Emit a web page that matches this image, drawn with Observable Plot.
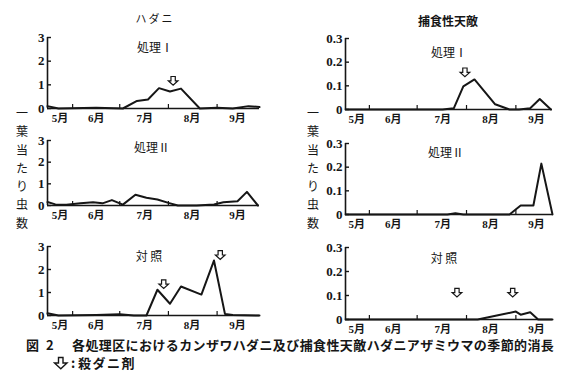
<!DOCTYPE html>
<html><head><meta charset="utf-8">
<script src="https://cdn.jsdelivr.net/npm/d3@7"></script>
<script src="https://cdn.jsdelivr.net/npm/@observablehq/plot@0.6"></script>
<style>
body{margin:0;background:#fff;}
#chart{position:relative;width:574px;height:384px;overflow:hidden;font-family:"Noto Sans CJK JP",sans-serif;color:#161616;}
#chart svg.plot{position:absolute;left:0;top:0;}
.t{position:absolute;transform:translate(-50%,-50%);white-space:nowrap;line-height:1;}
.v{position:absolute;width:16px;text-align:center;font-size:12px;line-height:18.3px;}
.c{position:absolute;white-space:nowrap;font-weight:bold;line-height:1;}
</style></head><body><div id="chart"></div>
<script>
// ---- tick labels / categories ----
const months = ["5月","6月","7月","8月","9月"];
const monthLabelAt = ["05-24","06-16","07-17","08-16","09-14"];
const monthStarts = ["06-01","07-01","08-01","09-01"];
const miteTicks = [0,1,2,3];
const predTicks = [0,0.1,0.2,0.3];

// ---- ハダニ (spider mites per leaf) ----
const miteI_dates = ["05-16","05-23","06-16","07-03","07-12","07-19","07-26","08-02","08-09","08-21","09-01","09-11","09-21","09-28"];
const miteI_vals  = [0.10,0.00,0.03,0.00,0.32,0.38,0.86,0.72,0.84,0.00,0.03,0.00,0.10,0.06];
const miteII_dates = ["05-16","05-21","05-28","06-06","06-14","06-20","06-26","07-03","07-11","07-18","07-25","08-01","08-07","08-19","08-30","09-05","09-14","09-20","09-27"];
const miteII_vals  = [0.16,0.05,0.03,0.10,0.15,0.10,0.25,0.04,0.50,0.36,0.28,0.12,0.00,0.00,0.05,0.15,0.20,0.63,0.00];
const miteC_dates = ["05-16","05-23","06-16","07-01","07-10","07-18","07-25","08-02","08-09","08-22","08-30","09-06","09-11","09-28"];
const miteC_vals  = [0.10,0.00,0.02,0.05,0.00,0.00,1.12,0.51,1.26,0.91,2.39,0.07,0.02,0.00];

// ---- 捕食性天敵 (predators per leaf) ----
const predI_dates = ["05-17","07-17","07-24","07-30","08-06","08-19","08-28","09-03","09-10","09-16","09-23"];
const predI_vals  = [0,0,0.005,0.098,0.127,0.022,0,0,0.005,0.044,0];
const predII_dates = ["05-17","07-20","07-25","07-30","08-28","09-04","09-12","09-17","09-24"];
const predII_vals  = [0,0,0.005,0,0,0.038,0.038,0.215,0];
const predC_dates = ["05-17","08-08","08-20","09-01","09-04","09-10","09-15","09-24"];
const predC_vals  = [0,0,0.017,0.033,0.02,0.03,0,0];

// ---- 殺ダニ剤 application dates ----
const sprayMiteI = ["08-04"];
const sprayMiteC = ["07-29","09-03"];
const sprayPredI = ["07-31"];
const sprayPredC = ["07-26","08-30"];

const ink = "#161616";
const serif = "'Liberation Serif', 'DejaVu Serif', 'Noto Sans CJK JP', serif";
const parse = s => { const [m, d] = s.split("-").map(Number); return new Date(Date.UTC(2001, m - 1, d)); };
const rows = (dates, vals) => dates.map((d, i) => ({date: parse(d), value: vals[i]}));

// outlined down-arrow symbol (殺ダニ剤 marker)
const arrowSymbol = {
  draw(ctx, size) {
    const r = Math.sqrt(size / Math.PI);
    const w = r * 0.45, h = r * 0.9;
    ctx.moveTo(-w, -h);
    ctx.lineTo(w, -h);
    ctx.lineTo(w, 0);
    ctx.lineTo(r, 0);
    ctx.lineTo(0, h);
    ctx.lineTo(-r, 0);
    ctx.lineTo(-w, 0);
    ctx.closePath();
  }
};

function panel(cfg) {
  const {series, spray, sprayY, xDom, yMax, yTicks, fmt, L, R, T, B} = cfg;
  const x0 = parse(xDom[0]), x1 = parse(xDom[1]);
  const tickMs = (x1 - x0) * 4 / (R - L);
  const tickV = yMax * 4 / (B - T);
  const svg = Plot.plot({
    width: 574, height: 384,
    marginLeft: L, marginRight: 574 - R, marginTop: T, marginBottom: 384 - B,
    x: {type: "utc", domain: [x0, x1], axis: null},
    y: {domain: [0, yMax], axis: null},
    style: {background: "transparent", overflow: "visible"},
    marks: [
      Plot.ruleX([x0], {y1: 0, y2: yMax, stroke: ink, strokeWidth: 1.6}),
      Plot.ruleY([0], {x1: x0, x2: x1, stroke: ink, strokeWidth: 1.6}),
      Plot.ruleY(yTicks, {y: d => d, x1: x0, x2: new Date(+x0 + tickMs), stroke: ink, strokeWidth: 1.4}),
      Plot.ruleX(monthStarts.map(parse), {x: d => d, y1: 0, y2: tickV, stroke: ink, strokeWidth: 1.2}),
      Plot.text(yTicks, {x: x0, y: d => d, text: fmt, textAnchor: "end", dx: -3, fontFamily: serif, fontSize: 13, fontWeight: "bold", fill: ink}),
      Plot.text(monthLabelAt.map(parse), {x: d => d, y: 0, text: (d, i) => months[i], dy: 10, fontFamily: serif, fontSize: 11, fontWeight: "bold", fill: ink}),
      Plot.line(series, {x: "date", y: "value", stroke: ink, strokeWidth: 2}),
      Plot.dot(spray.map(parse), {x: d => d, y: sprayY, symbol: arrowSymbol, r: 4.8, fill: "white", stroke: ink, strokeWidth: 1.2})
    ]
  });
  svg.classList.add("plot");
  svg.querySelectorAll("text").forEach(t => { t.style.fontFamily = serif; });
  return svg;
}

const leftDom = ["05-16", "09-28"], rightDom = ["05-17", "09-24"];
const mf = d => String(d), pf = d => d === 0 ? "0" : d.toFixed(1);
const panels = [
  {series: rows(miteI_dates, miteI_vals), spray: sprayMiteI, sprayY: [1.17], xDom: leftDom, yMax: 3, yTicks: miteTicks, fmt: mf, L: 47, R: 259, T: 37, B: 108},
  {series: rows(miteII_dates, miteII_vals), spray: [], sprayY: [], xDom: leftDom, yMax: 3, yTicks: miteTicks, fmt: mf, L: 47, R: 259, T: 140, B: 205},
  {series: rows(miteC_dates, miteC_vals), spray: sprayMiteC, sprayY: [1.36, 2.63], xDom: leftDom, yMax: 3, yTicks: miteTicks, fmt: mf, L: 47, R: 259, T: 246, B: 315},
  {series: rows(predI_dates, predI_vals), spray: sprayPredI, sprayY: [0.157], xDom: rightDom, yMax: 0.3, yTicks: predTicks, fmt: pf, L: 345, R: 552, T: 38, B: 109},
  {series: rows(predII_dates, predII_vals), spray: [], sprayY: [], xDom: rightDom, yMax: 0.3, yTicks: predTicks, fmt: pf, L: 345, R: 552, T: 143, B: 214},
  {series: rows(predC_dates, predC_vals), spray: sprayPredC, sprayY: [0.112, 0.112], xDom: rightDom, yMax: 0.3, yTicks: predTicks, fmt: pf, L: 345, R: 552, T: 247, B: 319}
];
const chart = document.getElementById("chart");
for (const p of panels) {
  const ys = p.sprayY; p.sprayY = (d, i) => ys[i];
  chart.appendChild(panel(p));
}

function addText(cls, txt, x, y, style) {
  const el = document.createElement("div");
  el.className = cls; el.textContent = txt;
  el.style.left = x + "px"; el.style.top = y + "px";
  Object.assign(el.style, style || {});
  chart.appendChild(el);
  return el;
}
// column titles
addText("t", "ハダニ", 155, 18, {fontSize: "11px", letterSpacing: "2px"});
addText("t", "捕食性天敵", 448, 21, {fontSize: "12px", fontWeight: "bold"});
// panel titles
const ttl = {fontSize: "12px"};
addText("t", "処理Ⅰ", 155, 47, ttl);
addText("t", "処理Ⅰ", 449, 52, ttl);
addText("t", "処理Ⅱ", 152, 147, ttl);
addText("t", "処理Ⅱ", 446, 152, ttl);
addText("t", "対 照", 149, 256, ttl);
addText("t", "対 照", 444, 258, ttl);
// vertical y labels
const yl = "一葉当たり虫数";
for (const cx of [22, 313]) {
  const el = addText("v", "", cx - 8, 104);
  el.innerHTML = [...yl].map(c => `<div>${c}</div>`).join("");
}
// caption
const cap = {fontSize: "13px"};
addText("c", "図", 26, 338, cap);
addText("c", "2", 46, 338, cap);
addText("c", "各処理区におけるカンザワハダニ及び捕食性天敵ハダニアザミウマの季節的消長", 72, 338, Object.assign({letterSpacing: "0.4px"}, cap));
const legendArrow = document.createElementNS("http://www.w3.org/2000/svg", "svg");
legendArrow.setAttribute("width", "16"); legendArrow.setAttribute("height", "14");
legendArrow.setAttribute("style", "position:absolute;left:53px;top:356px;");
legendArrow.innerHTML = `<path d="M5.5,1.5H10V7H14L7.8,12.8L1.5,7H5.5Z" fill="white" stroke="${ink}" stroke-width="1.4" stroke-linejoin="miter"/>`;
chart.appendChild(legendArrow);
addText("c", ":", 71, 356, cap);
addText("c", "殺ダニ剤", 78, 356, Object.assign({letterSpacing: "1.5px"}, cap));
</script></body></html>
